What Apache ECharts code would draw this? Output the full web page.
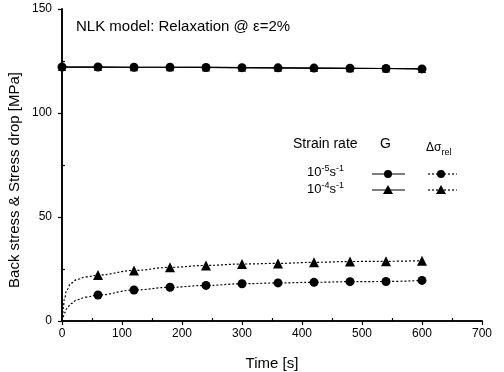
<!DOCTYPE html>
<html>
<head>
<meta charset="utf-8">
<script src="https://cdn.jsdelivr.net/npm/echarts@6/dist/echarts.min.js"></script>
<style>
  html, body { margin: 0; padding: 0; background: #fff; }
  #chart { width: 504px; height: 372px; }
</style>
</head>
<body>
<div id="chart"></div>
<script>
// Sampled times [s]
const markerTimes = [0, 60, 120, 180, 240, 300, 360, 420, 480, 540, 600];
// Back stress G [MPa]
const backStressSlow = [122.1, 122.1, 122.0, 122.0, 121.9, 121.8, 121.7, 121.6, 121.5, 121.4, 121.2];
const backStressFast = [122.1, 122.1, 122.0, 122.0, 121.9, 121.8, 121.7, 121.6, 121.5, 121.4, 121.2];

// Relaxation stress drop [MPa] at the sampled times (from 60 s on)
const dropTimes = [60, 120, 180, 240, 300, 360, 420, 480, 540, 600];
const dropSlow = [12.5, 14.9, 16.2, 17.1, 17.9, 18.3, 18.6, 18.9, 19.0, 19.5];
const dropFast = [22.1, 24.3, 25.8, 26.7, 27.4, 27.7, 28.2, 28.6, 28.7, 29.0];

// Early part of the relaxation curves (first minute)
const earlyTimes = [0, 1, 2, 4, 8, 15, 25, 40];
const earlySlow = [0, 1.0, 2.0, 3.8, 6.0, 8.4, 10.2, 11.5];
const earlyFast = [0, 3.0, 6.0, 10.5, 15.0, 18.2, 20.0, 21.2];

// Axis ticks
const xMajor = [0, 100, 200, 300, 400, 500, 600, 700];
const xMinor = [50, 150, 250, 350, 450, 550, 650];
const yMajor = [0, 50, 100, 150];
const yMinor = [25, 75, 125];

const FONT = 'Liberation Sans, Arial, sans-serif';
const pairs = (xs, ys) => xs.map((x, i) => [x, ys[i]]);
const curve = (ex, ey, tx, ty) => pairs(ex, ey).concat(pairs(tx, ty));

const chart = echarts.init(document.getElementById('chart'), null, { renderer: 'canvas' });

const lineStyleAxis = { color: '#000', width: 1.6 };
const markStyle = { color: '#000', opacity: 1 };

const option = {
  backgroundColor: '#fff',
  animation: false,
  grid: { left: 62, right: 22, top: 9, bottom: 51, containLabel: false, outerBoundsMode: 'none' },
  xAxis: [
    {
      type: 'value', min: 0, max: 700, interval: 100, position: 'bottom',
      axisLine: { show: true, lineStyle: lineStyleAxis },
      axisTick: { show: true, inside: false, length: 4, lineStyle: { color: '#000', width: 1.2 } },
      axisLabel: { color: '#000', fontSize: 12, fontFamily: FONT, margin: 7 },
      splitLine: { show: false },
      name: 'Time [s]', nameLocation: 'middle', nameGap: 35,
      nameTextStyle: { color: '#000', fontSize: 15, fontFamily: FONT }
    },
    {
      type: 'value', min: 0, max: 700, position: 'bottom',
      axisLine: { show: false },
      axisTick: { show: true, inside: true, length: 3, customValues: xMinor, lineStyle: { color: '#000', width: 1.2 } },
      axisLabel: { show: false },
      splitLine: { show: false }
    },
    {
      type: 'value', min: 0, max: 700, position: 'top',
      axisLine: { show: true, lineStyle: lineStyleAxis },
      axisTick: { show: false }, axisLabel: { show: false }, splitLine: { show: false }
    }
  ],
  yAxis: [
    {
      type: 'value', min: 0, max: 150, interval: 50, position: 'left',
      axisLine: { show: true, lineStyle: lineStyleAxis },
      axisTick: { show: true, inside: false, length: 4, lineStyle: { color: '#000', width: 1.2 } },
      axisLabel: { color: '#000', fontSize: 12, fontFamily: FONT, margin: 10 },
      splitLine: { show: false }
    },
    {
      type: 'value', min: 0, max: 150, position: 'left',
      axisLine: { show: false },
      axisTick: { show: true, inside: true, length: 3, customValues: yMinor, lineStyle: { color: '#000', width: 1.2 } },
      axisLabel: { show: false },
      splitLine: { show: false }
    },
    {
      type: 'value', min: 0, max: 150, position: 'right',
      axisLine: { show: true, lineStyle: lineStyleAxis },
      axisTick: { show: false }, axisLabel: { show: false }, splitLine: { show: false }
    }
  ],
  series: [
    // Back stress G, both strain rates
    {
      name: 'G 1e-4', type: 'line', data: pairs(markerTimes, backStressFast),
      symbol: 'triangle', symbolSize: 8, z: 2,
      lineStyle: { color: '#000', width: 1.2 }, itemStyle: markStyle
    },
    {
      name: 'G 1e-5', type: 'line', data: pairs(markerTimes, backStressSlow),
      symbol: 'circle', symbolSize: 9, z: 3,
      lineStyle: { color: '#000', width: 1.2 }, itemStyle: markStyle
    },
    // Stress drop curves (dotted)
    {
      name: 'drop 1e-5 curve', type: 'line', data: curve(earlyTimes, earlySlow, dropTimes, dropSlow),
      showSymbol: false, symbol: 'none', smooth: 0.4, smoothMonotone: 'x',
      lineStyle: { color: '#000', width: 1.2, type: [2, 2] }
    },
    {
      name: 'drop 1e-4 curve', type: 'line', data: curve(earlyTimes, earlyFast, dropTimes, dropFast),
      showSymbol: false, symbol: 'none', smooth: 0.4, smoothMonotone: 'x',
      lineStyle: { color: '#000', width: 1.2, type: [2, 2] }
    },
    {
      name: 'drop 1e-5', type: 'scatter', data: pairs(dropTimes, dropSlow),
      symbol: 'circle', symbolSize: 9, itemStyle: markStyle, z: 4
    },
    {
      name: 'drop 1e-4', type: 'scatter', data: pairs(dropTimes, dropFast),
      symbol: 'triangle', symbolSize: 10, itemStyle: markStyle, z: 4
    }
  ],
  graphic: [
    {
      type: 'text', left: 76, top: 19,
      style: { text: 'NLK model: Relaxation @ ε=2%', fill: '#000', font: '15px ' + FONT }
    },
    // Y-axis title
    {
      type: 'text', x: 15, y: 180, rotation: Math.PI / 2,
      style: {
        text: 'Back stress & Stress drop [MPa]', fill: '#000', font: '15px ' + FONT,
        align: 'center', verticalAlign: 'middle'
      }
    },
    // Legend table
    {
      type: 'group', left: 293, top: 137,
      children: [
        { type: 'text', x: 0, y: 0, style: { text: 'Strain rate', fill: '#000', font: '14px ' + FONT } },
        { type: 'text', x: 87, y: 0, style: { text: 'G', fill: '#000', font: '14px ' + FONT } },
        {
          type: 'text', x: 133, y: 1,
          style: {
            text: '{a|Δσ}{s|rel}', fill: '#000',
            rich: {
              a: { fontSize: 12, fontFamily: FONT, fill: '#000' },
              s: { fontSize: 9, fontFamily: FONT, fill: '#000', padding: [10, 0, 0, 0] }
            }
          }
        },
        {
          type: 'text', x: 14, y: 27,
          style: {
            text: '{b|10}{p|-5}{b|s}{p|-1}', fill: '#000',
            rich: {
              b: { fontSize: 13, fontFamily: FONT, fill: '#000' },
              p: { fontSize: 9, fontFamily: FONT, fill: '#000', padding: [0, 0, 8, 0] }
            }
          }
        },
        {
          type: 'text', x: 14, y: 44,
          style: {
            text: '{b|10}{p|-4}{b|s}{p|-1}', fill: '#000',
            rich: {
              b: { fontSize: 13, fontFamily: FONT, fill: '#000' },
              p: { fontSize: 9, fontFamily: FONT, fill: '#000', padding: [0, 0, 8, 0] }
            }
          }
        },
        { type: 'line', shape: { x1: 79, y1: 37, x2: 112, y2: 37 }, style: { stroke: '#000', lineWidth: 1.2 } },
        { type: 'circle', shape: { cx: 95, cy: 37, r: 4 }, style: { fill: '#000' } },
        { type: 'line', shape: { x1: 135, y1: 37, x2: 164, y2: 37 }, style: { stroke: '#000', lineWidth: 1.2, lineDash: [2, 2] } },
        { type: 'circle', shape: { cx: 148, cy: 37, r: 4 }, style: { fill: '#000' } },
        { type: 'line', shape: { x1: 79, y1: 53, x2: 112, y2: 53 }, style: { stroke: '#000', lineWidth: 1.2 } },
        { type: 'polygon', shape: { points: [[95, 48], [100, 57], [90, 57]] }, style: { fill: '#000' } },
        { type: 'line', shape: { x1: 135, y1: 53, x2: 164, y2: 53 }, style: { stroke: '#000', lineWidth: 1.2, lineDash: [2, 2] } },
        { type: 'polygon', shape: { points: [[148, 48], [153, 57], [143, 57]] }, style: { fill: '#000' } }
      ]
    }
  ]
};

chart.setOption(option);
</script>
</body>
</html>
